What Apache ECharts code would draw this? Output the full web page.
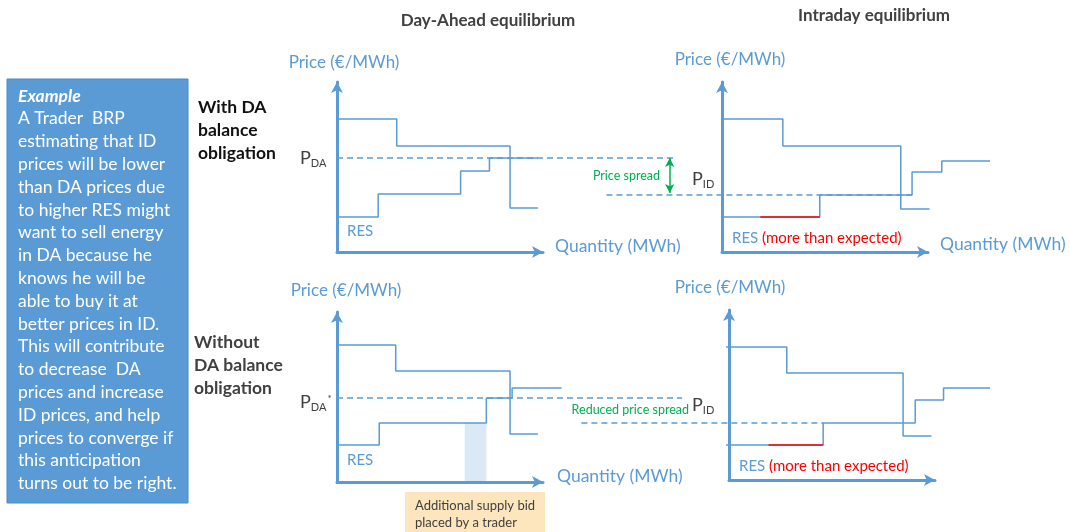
<!DOCTYPE html>
<html>
<head>
<meta charset="utf-8">
<script src="https://cdn.jsdelivr.net/npm/echarts@6/dist/echarts.min.js"></script>
<style>
  html, body { margin: 0; padding: 0; background: #fff; }
  #chart { width: 1070px; height: 532px; }
</style>
</head>
<body>
<div id="chart"></div>
<script>
// step curves: quantity breakpoints and price levels (axis units: 0..20 x 0..17)
const daWithDemandQ = [0, 5.8, 16.8, 19.5];
const daWithDemandP = [13.3, 10.6, 4.4, 4.4];
const daWithSupplyQ = [0, 4.0, 12.0, 14.8, 19.5];
const daWithSupplyP = [3.5, 5.8, 8.1, 9.4, 9.4];
const daWithPrice = 9.4;
const daWithPriceQ = [0, 32.8];

const idWithDemandQ = [0, 6.0, 17.5, 20.3];
const idWithDemandP = [13.3, 10.6, 4.3, 4.3];
const idWithSupplyQ = [0, 9.6, 18.6, 21.5, 26.2];
const idWithSupplyP = [3.5, 5.7, 8.0, 9.1, 9.1];
const idWithExtraResQ = [3.8, 9.6];
const idWithPrice = 5.7;
const idWithPriceQ = [-11.2, 18.6];

const daWithoutDemandQ = [0, 5.7, 16.8, 19.5];
const daWithoutDemandP = [13.7, 11.1, 4.8, 4.8];
const daWithoutSupplyQ = [0, 4.1, 14.5, 17.0, 21.8];
const daWithoutSupplyP = [3.7, 5.9, 8.4, 9.4, 9.4];
const daWithoutBidQ = [12.4, 14.5];
const daWithoutPrice = 8.4;
const daWithoutPriceQ = [0, 33.5];

const idWithoutDemandQ = [0, 6.0, 17.5, 20.3];
const idWithoutDemandP = [13.3, 10.7, 4.4, 4.4];
const idWithoutSupplyQ = [0, 9.6, 18.7, 21.5, 26.1];
const idWithoutSupplyP = [3.5, 5.7, 8.0, 9.2, 9.2];
const idWithoutExtraResQ = [4.2, 9.6];
const idWithoutPrice = 5.7;
const idWithoutPriceQ = [-14.3, 9.6];

// price spread arrow in the DA panel (from DA price down to ID price level)
const spreadQ = 32.3;
const spreadP = [9.4, 5.9];

const exampleLines = [
  'A Trader  BRP', 'estimating that ID', 'prices will be lower', 'than DA prices due',
  'to higher RES might', 'want to sell energy', 'in DA because he', 'knows he will be',
  'able to buy it at', 'better prices in ID.', 'This will contribute', 'to decrease  DA',
  'prices and increase', 'ID prices, and help', 'prices to converge if', 'this anticipation',
  'turns out to be right.'
];

const BLUE = '#5b9bd5';
const GREEN = '#00b050';
const FONT = 'Lato, "Open Sans", sans-serif';

const chart = echarts.init(document.getElementById('chart'));

// visible axis boxes (origin at left/bottom), 10.3 px per quantity unit, 10 px per price unit
const panels = [
  { left: 337, top: 82 },
  { left: 722, top: 82 },
  { left: 337, top: 312 },
  { left: 729, top: 310 }
];
const UX = 10.3, QMIN = -16, QMAX = 34;

const steps = (q, p) => q.map((x, i) => [x, p[i]]);
const flat = (q, p) => q.map(x => [x, p]);

// series go on the wider hidden "data" grids (index 4..7) sharing each panel's scale
function stepLine(idx, data, color) {
  return {
    type: 'line', xAxisIndex: idx + 4, yAxisIndex: idx + 4, data: data, step: 'end',
    showSymbol: false, clip: false, silent: true,
    lineStyle: { color: color || BLUE, width: 1.5 }
  };
}
function dashLine(idx, data) {
  return {
    type: 'line', xAxisIndex: idx + 4, yAxisIndex: idx + 4, data: data,
    showSymbol: false, clip: false, silent: true,
    lineStyle: { color: BLUE, width: 1.3, type: [6, 4] }
  };
}

const spreadSeries = dashLine(0, flat(daWithPriceQ, daWithPrice));
spreadSeries.markLine = {
  silent: true, symbol: ['arrow', 'arrow'], symbolSize: [7, 9],
  label: { show: false },
  lineStyle: { color: GREEN, width: 1.5, type: 'solid' },
  data: [[{ coord: [spreadQ, spreadP[0]] }, { coord: [spreadQ, spreadP[1]] }]]
};

const bidSeries = stepLine(2, steps(daWithoutSupplyQ, daWithoutSupplyP));
bidSeries.markArea = {
  silent: true,
  itemStyle: { color: 'rgba(91,155,213,0.22)' },
  data: [[{ coord: [daWithoutBidQ[0], 0] }, { coord: [daWithoutBidQ[1], daWithoutSupplyP[1]] }]]
};

const axisLine = {
  show: true, symbol: ['none', 'arrow'], symbolSize: [9, 11],
  lineStyle: { color: BLUE, width: 3 }
};
const hidden = { show: false };

function txt(x, y, text, opts) {
  return {
    type: 'text', x: x, y: y, silent: true,
    style: Object.assign({ text: text, font: '17px ' + FONT, fill: BLUE, verticalAlign: 'middle' }, opts || {})
  };
}
function pLabel(x, y, sub, star) {
  return {
    type: 'text', x: x, y: y, silent: true,
    style: {
      text: '{p|P}{s|' + sub + '}' + (star ? '{t|*}' : ''),
      verticalAlign: 'middle',
      rich: {
        p: { font: '18px ' + FONT, fill: '#404040' },
        s: { font: '11px ' + FONT, fill: '#404040', padding: [10, 0, 0, 0] },
        t: { font: '10px ' + FONT, fill: '#404040', padding: [0, 0, 6, 1] }
      }
    }
  };
}
const resRich = {
  font: '15px ' + FONT,
  rich: { b: { font: '15px ' + FONT, fill: BLUE }, r: { font: '15px ' + FONT, fill: '#ff0000' } }
};

const option = {
  animation: false,
  backgroundColor: '#fff',
  grid: panels.map(p => ({ left: p.left, top: p.top, width: 206, height: 170 }))
    .concat(panels.map(p => ({ left: p.left + QMIN * UX, top: p.top, width: (QMAX - QMIN) * UX, height: 170 }))),
  xAxis: panels.map((p, i) => ({
    type: 'value', gridIndex: i, min: 0, max: 20,
    axisLine: axisLine, axisTick: hidden, axisLabel: hidden, splitLine: hidden
  })).concat(panels.map((p, i) => ({
    type: 'value', gridIndex: i + 4, min: QMIN, max: QMAX,
    axisLine: hidden, axisTick: hidden, axisLabel: hidden, splitLine: hidden
  }))),
  yAxis: panels.map((p, i) => ({
    type: 'value', gridIndex: i, min: 0, max: 17,
    axisLine: axisLine, axisTick: hidden, axisLabel: hidden, splitLine: hidden
  })).concat(panels.map((p, i) => ({
    type: 'value', gridIndex: i + 4, min: 0, max: 17,
    axisLine: hidden, axisTick: hidden, axisLabel: hidden, splitLine: hidden
  }))),
  series: [
    stepLine(0, steps(daWithDemandQ, daWithDemandP)),
    stepLine(0, steps(daWithSupplyQ, daWithSupplyP)),
    spreadSeries,

    stepLine(1, steps(idWithDemandQ, idWithDemandP)),
    stepLine(1, steps(idWithSupplyQ, idWithSupplyP)),
    dashLine(1, flat(idWithPriceQ, idWithPrice)),
    stepLine(1, flat(idWithExtraResQ, idWithSupplyP[0]), '#ff0000'),

    stepLine(2, steps(daWithoutDemandQ, daWithoutDemandP)),
    bidSeries,
    dashLine(2, flat(daWithoutPriceQ, daWithoutPrice)),

    stepLine(3, steps(idWithoutDemandQ, idWithoutDemandP)),
    stepLine(3, steps(idWithoutSupplyQ, idWithoutSupplyP)),
    dashLine(3, flat(idWithoutPriceQ, idWithoutPrice)),
    stepLine(3, flat(idWithoutExtraResQ, idWithoutSupplyP[0]), '#ff0000')
  ],
  graphic: [
    txt(488, 21, 'Day-Ahead equilibrium', { font: 'bold 17px ' + FONT, fill: '#404040', align: 'center' }),
    txt(874, 16, 'Intraday equilibrium', { font: 'bold 17px ' + FONT, fill: '#404040', align: 'center' }),

    { type: 'rect', silent: true, shape: { x: 7, y: 79, width: 181, height: 424 },
      style: { fill: BLUE, stroke: '#4a8ac8', lineWidth: 1 } },
    txt(18, 84.6, '{e|Example}\n' + exampleLines.join('\n'), {
      verticalAlign: 'top', fill: '#fff', font: '17.5px ' + FONT, lineHeight: 22.8,
      rich: { e: { font: 'italic bold 17.5px ' + FONT, fill: '#fff', lineHeight: 22.8 } }
    }),

    txt(198, 95.5, 'With DA\nbalance\nobligation', { font: 'bold 17.5px ' + FONT, fill: '#111', lineHeight: 23, verticalAlign: 'top' }),
    txt(194, 330.5, 'Without\nDA balance\nobligation', { font: 'bold 17.5px ' + FONT, fill: '#404040', lineHeight: 23, verticalAlign: 'top' }),

    txt(344, 63, 'Price (€/MWh)', { align: 'center' }),
    txt(730, 60, 'Price (€/MWh)', { align: 'center' }),
    txt(346, 291, 'Price (€/MWh)', { align: 'center' }),
    txt(730, 288, 'Price (€/MWh)', { align: 'center' }),
    txt(555, 246, 'Quantity (MWh)', { font: '17.5px ' + FONT }),
    txt(940, 244, 'Quantity (MWh)', { font: '17.5px ' + FONT }),
    txt(557, 476, 'Quantity (MWh)', { font: '17.5px ' + FONT }),

    txt(347, 231, 'RES', { font: '15px ' + FONT }),
    txt(347, 460, 'RES', { font: '15px ' + FONT }),
    txt(732, 238, '{b|RES} {r|(more than expected)}', resRich),
    txt(739, 466, '{b|RES} {r|(more than expected)}', resRich),

    pLabel(300, 158, 'DA'),
    pLabel(300, 402, 'DA', true),
    pLabel(692, 179, 'ID'),
    pLabel(692, 405, 'ID'),

    txt(660, 176, 'Price spread', { font: '12.5px ' + FONT, fill: GREEN, align: 'right' }),
    txt(689, 410, 'Reduced price spread', { font: '12.5px ' + FONT, fill: GREEN, align: 'right' }),

    { type: 'rect', silent: true, shape: { x: 405, y: 492, width: 140, height: 42 },
      style: { fill: '#fde6bd' } },
    txt(415, 497, 'Additional supply bid\nplaced by a trader', {
      font: '13px ' + FONT, fill: '#404040', lineHeight: 17, verticalAlign: 'top' })
  ]
};

chart.setOption(option);
</script>
</body>
</html>
